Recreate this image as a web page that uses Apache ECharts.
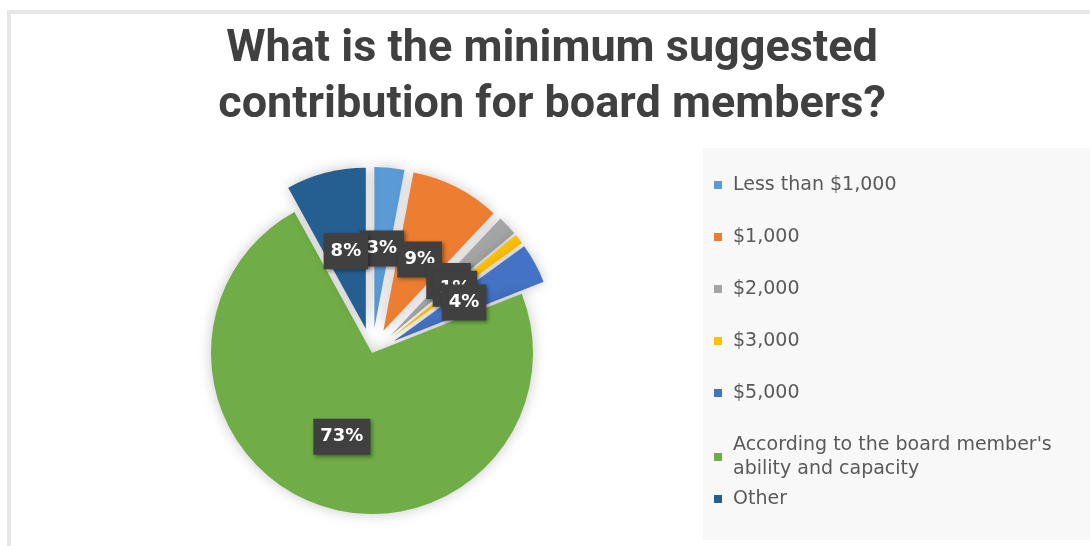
<!DOCTYPE html>
<html>
<head>
<meta charset="utf-8">
<script src="https://cdn.jsdelivr.net/npm/echarts@6/dist/echarts.min.js"></script>
<style>html,body{margin:0;padding:0;background:#fff;}#chart{width:1090px;height:546px;}</style>
</head>
<body>
<div id="chart"></div>
<script>
const titleText = 'What is the minimum suggested\ncontribution for board members?';
const categories = ['Less than $1,000', '$1,000', '$2,000', '$3,000', '$5,000',
  "According to the board member's ability and capacity", 'Other'];
const values = [3, 9, 2, 1, 4, 73, 8];
const colors = ['#5B9BD5', '#ED7D31', '#A5A5A5', '#FFC000', '#4472C4', '#70AD47', '#255E91'];
const exploded = [true, true, true, true, true, false, true];

const PIE_R = 161;
const LABEL_FONT = 18;
const LABEL_PAD_X = 7;

function labelBoxWidth(text) {
  // DejaVu Sans Bold advances: digits 0.696em, % 1.002em
  let w = 0;
  for (const ch of text) w += (ch === '%' ? 1.002 : 0.696) * LABEL_FONT;
  return w + 2 * LABEL_PAD_X;
}

function wrapWords(text, maxChars) {
  const words = text.split(' ');
  const lines = [];
  let cur = '';
  for (const w of words) {
    if (cur && (cur + ' ' + w).length > maxChars) { lines.push(cur); cur = w; }
    else cur = cur ? cur + ' ' + w : w;
  }
  if (cur) lines.push(cur);
  return lines.join('\n');
}

const chart = echarts.init(document.getElementById('chart'));
const legendText = {
  fontFamily: '"DejaVu Sans", sans-serif', fontSize: 19, color: '#595959', lineHeight: 24
};
// square marker followed by empty space, so text sits further from the swatch
const legendIcon = 'path://M0,0H8V8H0ZM13.99,7.99H14V8H13.99Z';
const legendFormatter = name => wrapWords(name, 32);
chart.setOption({
  backgroundColor: '#fff',
  animation: false,
  graphic: [
    { type: 'rect', shape: { x: 9, y: 12, width: 1100, height: 560 }, style: { fill: 'none', stroke: '#e6e6e6', lineWidth: 4 }, z: -10 },
    { type: 'rect', shape: { x: 703, y: 148, width: 387, height: 392 }, style: { fill: '#f8f8f8' }, z: -9 }
  ],
  title: {
    text: titleText,
    left: 547,
    textAlign: 'center',
    top: 17,
    textStyle: {
      fontFamily: 'Roboto, sans-serif',
      fontWeight: 'bold', fontSize: 45, lineHeight: 56, color: '#404040'
    }
  },
  legend: [
    {
      orient: 'vertical', left: 709, top: 168, itemGap: 28, itemWidth: 14, itemHeight: 8, icon: legendIcon,
      data: categories.slice(0, 6), textStyle: legendText, formatter: legendFormatter, selectedMode: false
    },
    {
      orient: 'vertical', left: 709, top: 482, itemWidth: 14, itemHeight: 8, icon: legendIcon,
      data: categories.slice(6), textStyle: legendText, formatter: legendFormatter, selectedMode: false
    }
  ],
  series: [{
    type: 'pie',
    center: [372, 353],
    radius: PIE_R,
    startAngle: 90,
    clockwise: true,
    selectedMode: 'multiple',
    selectedOffset: 25,
    avoidLabelOverlap: false,
    labelLayout: { hideOverlap: false },
    itemStyle: { shadowBlur: 14, shadowColor: 'rgba(0,0,0,0.22)' },
    emphasis: { disabled: true },
    label: {
      show: true, position: 'outside', alignTo: 'none', formatter: '{c}%',
      color: '#fff', fontWeight: 'bold', fontSize: LABEL_FONT, lineHeight: 20,
      fontFamily: '"DejaVu Sans", sans-serif',
      backgroundColor: '#404040', padding: [8, LABEL_PAD_X],
      shadowBlur: 4, shadowColor: 'rgba(0,0,0,0.4)', shadowOffsetX: 2, shadowOffsetY: 2
    },
    labelLine: { show: false, length: -81, length2: 0 },
    data: categories.map((name, i) => {
      const inward = exploded[i] ? -81 : -72;
      return {
        name, value: values[i], selected: exploded[i], itemStyle: { color: colors[i] },
        label: { distanceToLabelLine: -labelBoxWidth(values[i] + '%') / 2 },
        labelLine: { show: false, length: inward, length2: 0 }
      };
    })
  }]
});
</script>
</body>
</html>
